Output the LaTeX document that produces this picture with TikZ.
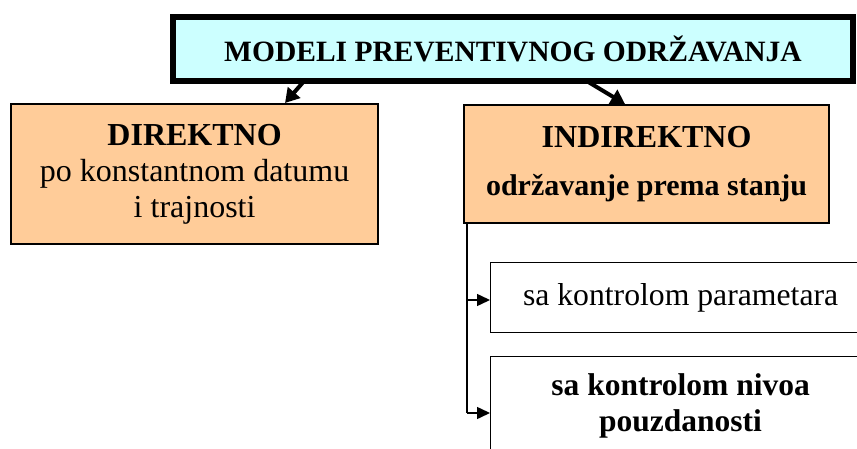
\documentclass[tikz,border=0pt]{standalone}
\usepackage{fontspec}
\setmainfont{Liberation Serif}
\usetikzlibrary{arrows.meta}
\definecolor{topfill}{HTML}{CCFFFF}
\definecolor{boxfill}{HTML}{FFCC99}
\begin{document}
\begin{tikzpicture}[x=1pt,y=1pt,
  topbox/.style={draw=black,line width=6pt,fill=topfill,inner sep=0},
  orangebox/.style={draw=black,line width=2.2pt,fill=boxfill,inner sep=0,align=center},
  whitebox/.style={draw=black,line width=1.2pt,fill=white,inner sep=0,align=center},
  bigarrow/.style={line width=4pt,-{Triangle[length=14pt,width=16pt]}},
  smallarrow/.style={line width=1.5pt,-{Triangle[length=13pt,width=12pt]}}]
\useasboundingbox (0,0) rectangle (857,448);
% top
\node[topbox,minimum width=680,minimum height=64,anchor=north west,
  font=\fontsize{29.5}{34}\selectfont\bfseries] (top) at (170,434)
  {MODELI PREVENTIVNOG ODRŽAVANJA};
% left
\node[orangebox,minimum width=367,minimum height=140,anchor=north west,
  font=\fontsize{32}{36}\selectfont] (dir) at (10,345)
  {\textbf{DIREKTNO}\\po konstantnom datumu\\i trajnosti};
% right
\node[orangebox,minimum width=365,minimum height=118,anchor=north west,
  font=\fontsize{30}{36}\selectfont\bfseries] (ind) at (463,344)
  {{\fontsize{32}{36}\selectfont INDIREKTNO}\\[12pt]održavanje prema stanju};
% sub boxes
\node[whitebox,minimum width=380,minimum height=70,anchor=north west,
  font=\fontsize{31.7}{36}\selectfont] (par) at (490,186)
  {sa kontrolom parametara};
\node[whitebox,minimum width=380,minimum height=98,anchor=north west,
  font=\fontsize{31.5}{36}\selectfont\bfseries] (niv) at (490,92)
  {sa kontrolom nivoa\\pouzdanosti};
% arrows
\coordinate (a1) at (305,368);
\coordinate (a2) at (585,368);
\draw[bigarrow] (a1) -- (dir.north -| 285,0) ;
\draw[bigarrow] (a2) -- (ind.north -| 625,0);
\coordinate (v) at (467,226);
\draw[line width=1.8pt] (ind.south west -| v) -- (v |- 0,35);
\draw[smallarrow] (v |- 0,148) -- (par.west |- 0,148);
\draw[smallarrow] (v |- 0,35) -- (niv.west |- 0,35);
\end{tikzpicture}
\end{document}
